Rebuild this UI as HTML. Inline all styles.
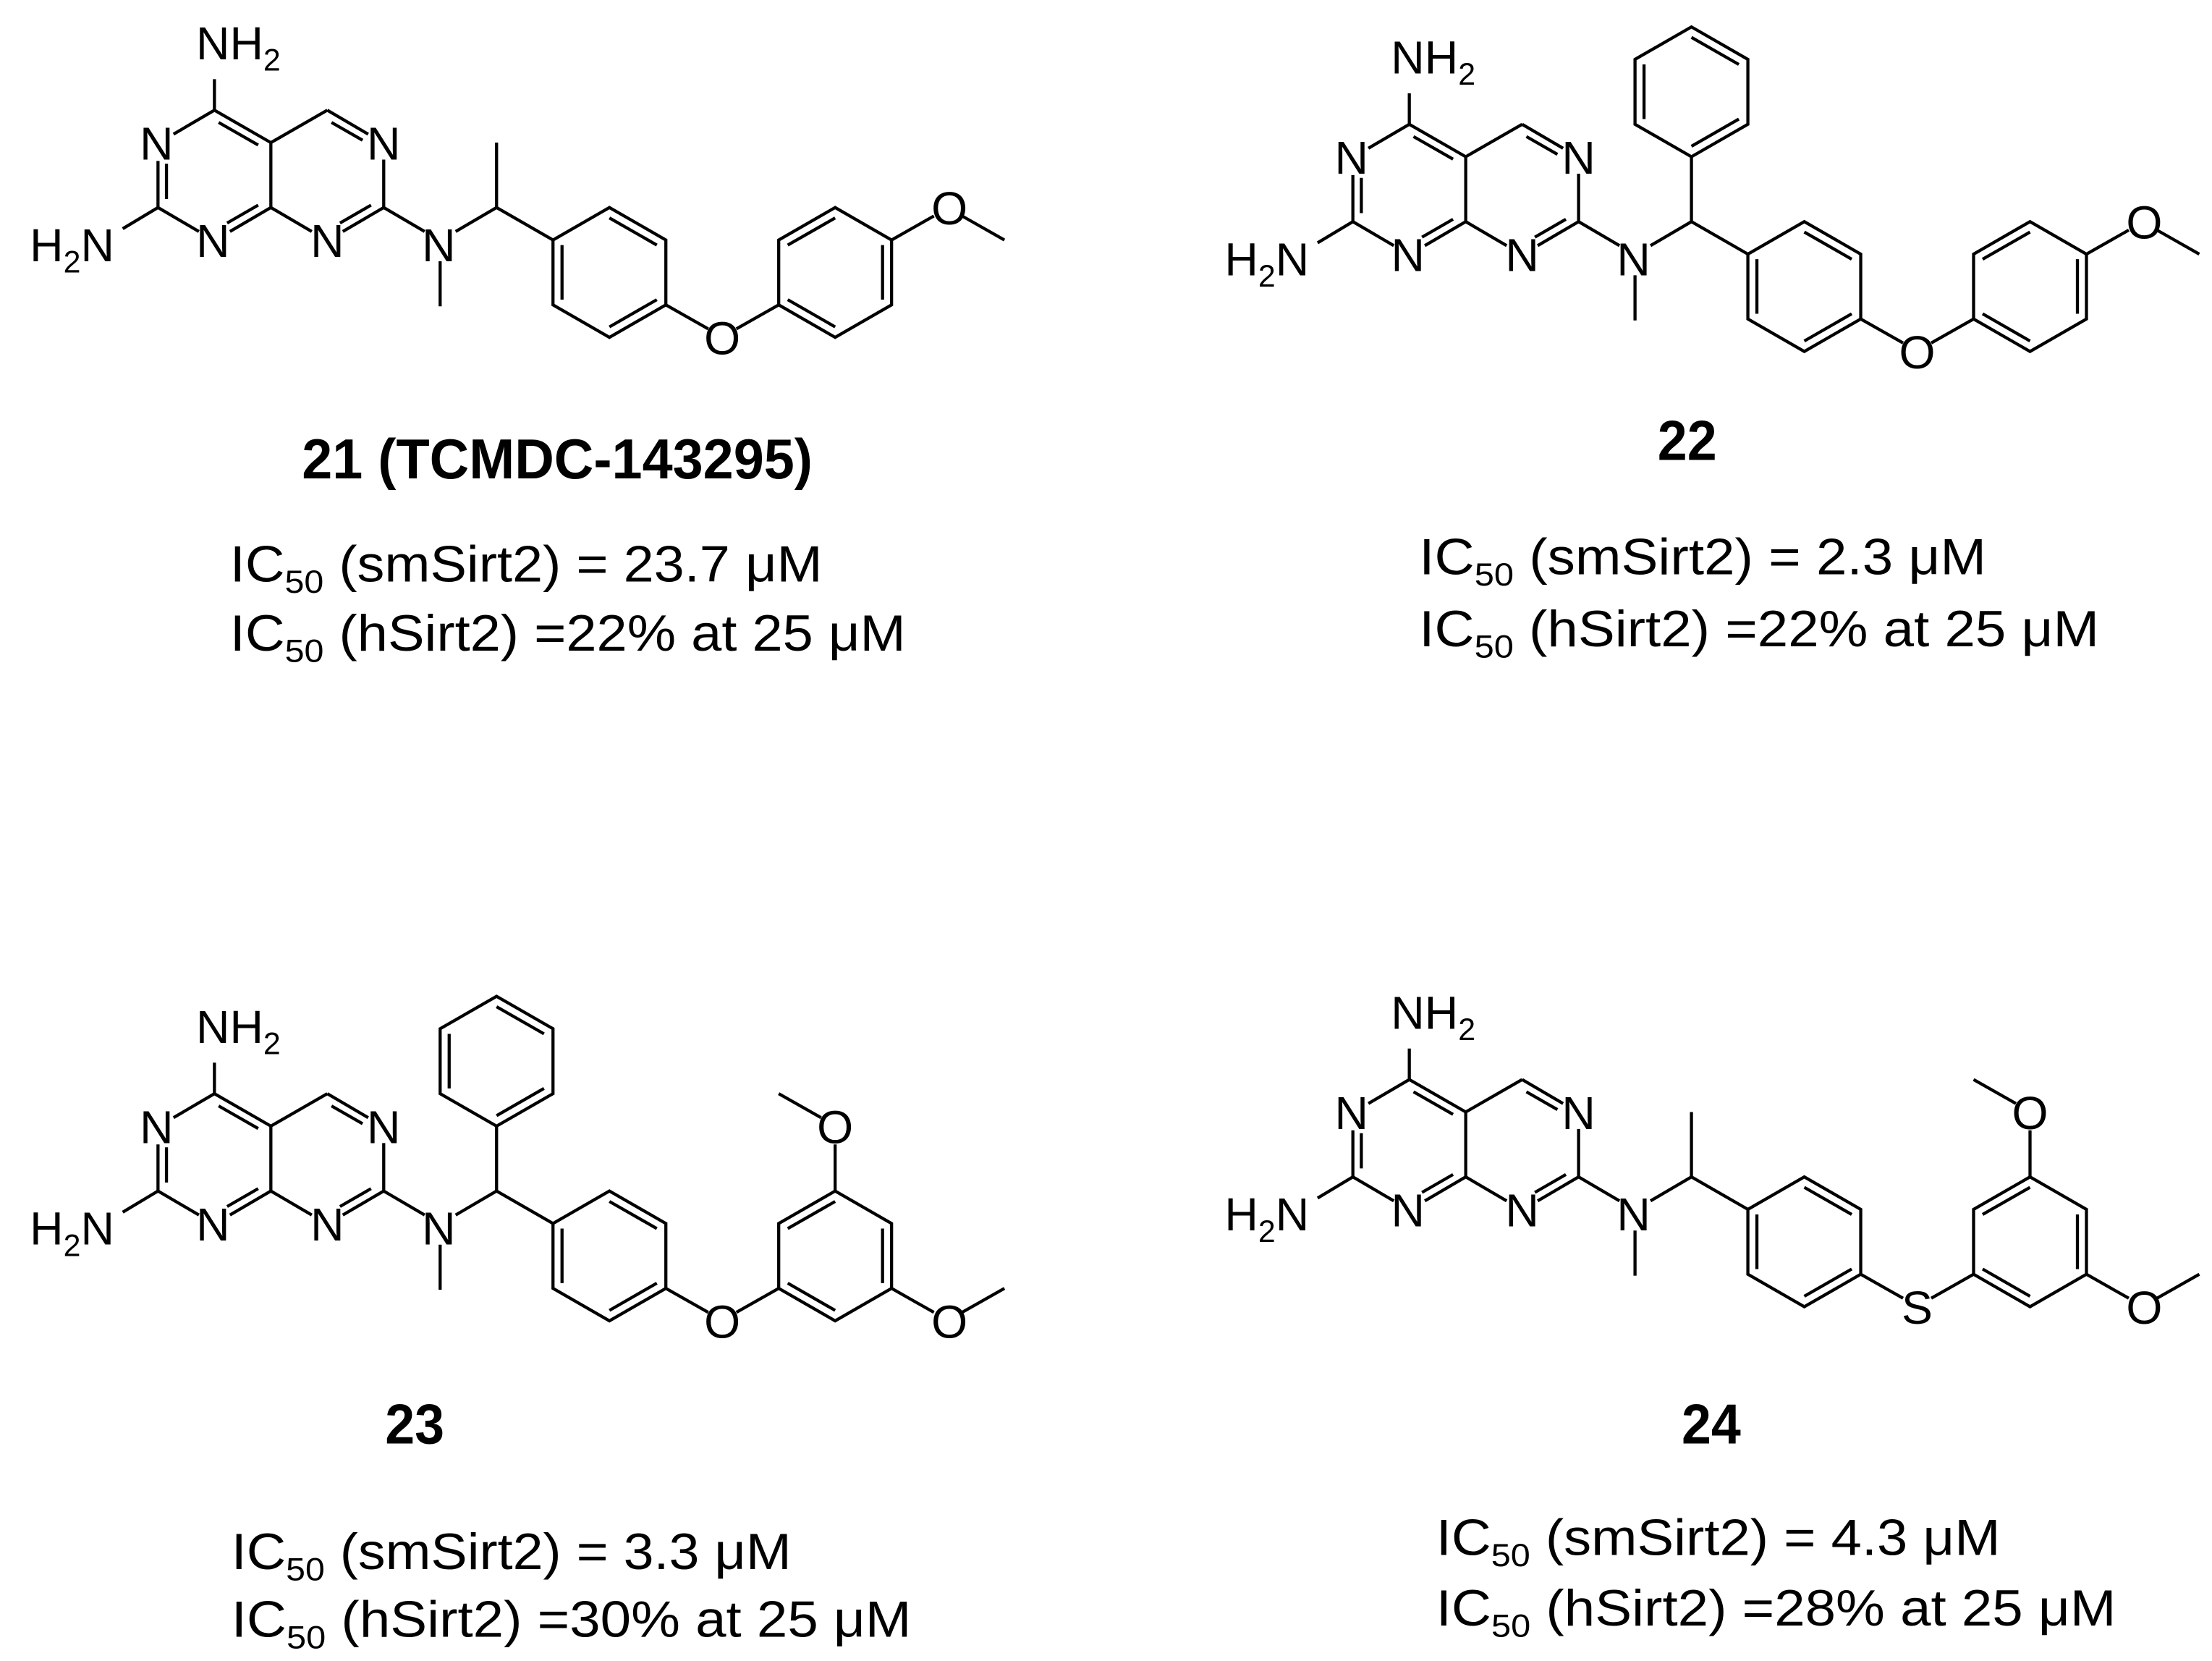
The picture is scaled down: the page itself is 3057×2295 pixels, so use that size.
<!DOCTYPE html>
<html><head><meta charset="utf-8"><style>
html,body{margin:0;padding:0;background:#fff;}
svg{display:block;}
text{font-family:"Liberation Sans",Arial,sans-serif;fill:#000;}
.a{font-size:33px;}
.s{font-size:22px;}
.ic{font-size:36px;}
.is{font-size:23px;}
.b{font-size:40px;font-weight:bold;}
</style></head><body>
<svg width="3057" height="2295" viewBox="0 0 1568 1177" xmlns="http://www.w3.org/2000/svg">
<rect width="1568" height="1177" fill="#fff"/>
<defs>
<g id="core" stroke="#000" stroke-width="2.2" fill="none" stroke-linecap="butt">
 <line x1="152" y1="78" x2="123" y2="95"/>
 <line x1="112" y1="114" x2="112" y2="147"/>
 <line x1="118" y1="116" x2="118" y2="141"/>
 <line x1="112" y1="147" x2="141" y2="164"/>
 <line x1="163" y1="164" x2="192" y2="147"/>
 <line x1="183" y1="145.3" x2="161" y2="158"/>
 <line x1="192" y1="147" x2="192" y2="101"/>
 <line x1="192" y1="101" x2="152" y2="78"/>
 <line x1="155" y1="86.7" x2="183" y2="102.7"/>
 <line x1="192" y1="101" x2="232" y2="78"/>
 <line x1="232" y1="78" x2="261" y2="95"/>
 <line x1="235" y1="86.7" x2="257" y2="99.3"/>
 <line x1="272" y1="113" x2="272" y2="147"/>
 <line x1="272" y1="147" x2="243" y2="164"/>
 <line x1="263" y1="145.3" x2="241" y2="158"/>
 <line x1="221" y1="164" x2="192" y2="147"/>
 <line x1="152" y1="78" x2="152" y2="56"/>
 <line x1="112" y1="147" x2="87" y2="162"/>
 <line x1="272" y1="147" x2="301" y2="164"/>
 <line x1="323" y1="164" x2="352" y2="147"/>
 <line x1="312" y1="185" x2="312" y2="217"/>
 <line x1="352" y1="147" x2="392" y2="170"/>
 <polygon points="432,147 472,170 472,216 432,239 392,216 392,170"/>
 <line x1="432" y1="154.4" x2="465.6" y2="173.6"/>
 <line x1="398.4" y1="173.6" x2="398.4" y2="212.3"/>
 <line x1="465.6" y1="212.3" x2="432" y2="231.6"/>
 <line x1="472" y1="216" x2="502" y2="233"/>
 <line x1="522" y1="233" x2="552" y2="216"/>
 <polygon points="592,147 632,170 632,216 592,239 552,216 552,170"/>
 <line x1="558.4" y1="173.6" x2="592" y2="154.4"/>
 <line x1="625.6" y1="173.6" x2="625.6" y2="212.3"/>
 <line x1="558.4" y1="212.3" x2="592" y2="231.6"/>
</g>
<g id="me" stroke="#000" stroke-width="2.2" fill="none">
 <line x1="352" y1="147" x2="352" y2="101"/>
</g>
<g id="ph" stroke="#000" stroke-width="2.2" fill="none">
 <line x1="352" y1="147" x2="352" y2="101"/>
 <polygon points="352,9 392,32 392,78 352,101 312,78 312,32"/>
 <line x1="352" y1="16.4" x2="385.6" y2="35.6"/>
 <line x1="318.4" y1="35.6" x2="318.4" y2="74.3"/>
 <line x1="385.6" y1="74.3" x2="352" y2="93.6"/>
</g>
<g id="pome" stroke="#000" stroke-width="2.2" fill="none">
 <line x1="632" y1="170" x2="662" y2="153"/>
 <line x1="682" y1="153" x2="712" y2="170"/>
</g>
<g id="dome" stroke="#000" stroke-width="2.2" fill="none">
 <line x1="592" y1="147" x2="592" y2="114"/>
 <line x1="582" y1="95" x2="552" y2="78"/>
 <line x1="632" y1="216" x2="662" y2="233"/>
 <line x1="682" y1="233" x2="712" y2="216"/>
</g>
</defs>

<!-- 21 -->
<g>
 <use href="#core"/><use href="#me"/><use href="#pome"/>
 <g class="a" text-anchor="middle">
  <text x="111" y="113">N</text><text x="151" y="182">N</text>
  <text x="272" y="113">N</text><text x="232" y="182">N</text>
  <text x="311" y="185">N</text>
  <text x="512" y="251">O</text><text x="673" y="159">O</text>
 </g>
 <text class="a" x="139" y="42">NH<tspan class="s" dy="8">2</tspan></text>
 <text class="a" x="81" y="185" text-anchor="end">H<tspan class="s" dy="8">2</tspan><tspan dy="-8">N</tspan></text>
</g>
<text class="b" x="395" y="339" text-anchor="middle" textLength="362" lengthAdjust="spacingAndGlyphs">21 (TCMDC-143295)</text>
<text class="ic" x="163" y="412" textLength="420" lengthAdjust="spacingAndGlyphs">IC<tspan class="is" dy="8">50</tspan><tspan dy="-8"> (smSirt2) = 23.7 μM</tspan></text>
<text class="ic" x="163" y="461" textLength="479" lengthAdjust="spacingAndGlyphs">IC<tspan class="is" dy="8">50</tspan><tspan dy="-8"> (hSirt2) =22% at 25 μM</tspan></text>

<!-- 22 -->
<g transform="translate(847,10)">
 <use href="#core"/><use href="#ph"/><use href="#pome"/>
 <g class="a" text-anchor="middle">
  <text x="111" y="113">N</text><text x="151" y="182">N</text>
  <text x="272" y="113">N</text><text x="232" y="182">N</text>
  <text x="311" y="185">N</text>
  <text x="512" y="251">O</text><text x="673" y="159">O</text>
 </g>
 <text class="a" x="139" y="42">NH<tspan class="s" dy="8">2</tspan></text>
 <text class="a" x="81" y="185" text-anchor="end">H<tspan class="s" dy="8">2</tspan><tspan dy="-8">N</tspan></text>
</g>
<text class="b" x="1196" y="326" text-anchor="middle" textLength="42" lengthAdjust="spacingAndGlyphs">22</text>
<text class="ic" x="1006" y="407" textLength="402" lengthAdjust="spacingAndGlyphs">IC<tspan class="is" dy="8">50</tspan><tspan dy="-8"> (smSirt2) = 2.3 μM</tspan></text>
<text class="ic" x="1006" y="458" textLength="482" lengthAdjust="spacingAndGlyphs">IC<tspan class="is" dy="8">50</tspan><tspan dy="-8"> (hSirt2) =22% at 25 μM</tspan></text>

<!-- 23 -->
<g transform="translate(0,697)">
 <use href="#core"/><use href="#ph"/><use href="#dome"/>
 <g class="a" text-anchor="middle">
  <text x="111" y="113">N</text><text x="151" y="182">N</text>
  <text x="272" y="113">N</text><text x="232" y="182">N</text>
  <text x="311" y="185">N</text>
  <text x="512" y="251">O</text><text x="592" y="113">O</text><text x="673" y="251">O</text>
 </g>
 <text class="a" x="139" y="42">NH<tspan class="s" dy="8">2</tspan></text>
 <text class="a" x="81" y="185" text-anchor="end">H<tspan class="s" dy="8">2</tspan><tspan dy="-8">N</tspan></text>
</g>
<text class="b" x="294" y="1023" text-anchor="middle" textLength="42" lengthAdjust="spacingAndGlyphs">23</text>
<text class="ic" x="164" y="1112" textLength="397" lengthAdjust="spacingAndGlyphs">IC<tspan class="is" dy="8">50</tspan><tspan dy="-8"> (smSirt2) = 3.3 μM</tspan></text>
<text class="ic" x="164" y="1160" textLength="482" lengthAdjust="spacingAndGlyphs">IC<tspan class="is" dy="8">50</tspan><tspan dy="-8"> (hSirt2) =30% at 25 μM</tspan></text>

<!-- 24 -->
<g transform="translate(847,687)">
 <use href="#core"/><use href="#me"/><use href="#dome"/>
 <g class="a" text-anchor="middle">
  <text x="111" y="113">N</text><text x="151" y="182">N</text>
  <text x="272" y="113">N</text><text x="232" y="182">N</text>
  <text x="311" y="185">N</text>
  <text x="512" y="251">S</text><text x="592" y="113">O</text><text x="673" y="251">O</text>
 </g>
 <text class="a" x="139" y="42">NH<tspan class="s" dy="8">2</tspan></text>
 <text class="a" x="81" y="185" text-anchor="end">H<tspan class="s" dy="8">2</tspan><tspan dy="-8">N</tspan></text>
</g>
<text class="b" x="1213" y="1023" text-anchor="middle" textLength="42" lengthAdjust="spacingAndGlyphs">24</text>
<text class="ic" x="1018" y="1102" textLength="400" lengthAdjust="spacingAndGlyphs">IC<tspan class="is" dy="8">50</tspan><tspan dy="-8"> (smSirt2) = 4.3 μM</tspan></text>
<text class="ic" x="1018" y="1152" textLength="482" lengthAdjust="spacingAndGlyphs">IC<tspan class="is" dy="8">50</tspan><tspan dy="-8"> (hSirt2) =28% at 25 μM</tspan></text>
</svg>
</body></html>
